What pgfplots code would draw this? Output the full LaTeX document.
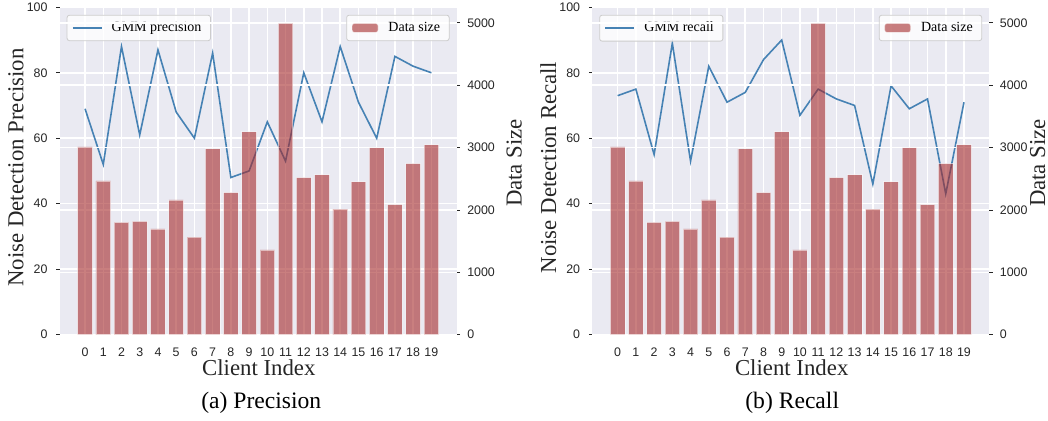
\documentclass[border=0pt]{standalone}
\usepackage{fontspec}
\setmainfont{Liberation Serif}
\newfontfamily\tickfont{Liberation Sans}
\usepackage{pgfplots}
\usepackage{pgfplotstable}
\pgfplotsset{compat=1.18}
\definecolor{bgc}{HTML}{EAEAF2}
\definecolor{barc}{HTML}{A52A2A}
\definecolor{linec}{HTML}{4682B4}
\definecolor{tickc}{HTML}{262626}

\pgfplotstableread{
idx size prec rec
0 3010 69 73
1 2465 52 75
2 1800 88 55
3 1818 61 89
4 1695 87 53
5 2160 68 82
6 1562 60 71
7 2980 86 74
8 2278 48 84
9 3252 50 90
10 1358 65 67
11 4990 53 75
12 2519 80 72
13 2562 65 70
14 2011 88 46
15 2450 71 76
16 2995 60 69
17 2085 85 72
18 2743 82 43
19 3043 80 71
}\datatable

\pgfplotsset{
  panel/.style={
    scale only axis, width=198.5pt, height=163.65pt,
    xmin=-1.39, xmax=20.39,
    anchor=south west,
    axis line style={draw=none},
    tick align=outside,
    major tick length=1.75pt,
    tick style={color=tickc, line width=0.4pt},
    tick label style={font=\tickfont\fontsize{6.2}{7}\selectfont, text=tickc},
    /pgf/number format/assume math mode=true,
    /pgf/number format/1000 sep={},
    major grid style={white, line width=0.75pt},
    legend style={font=\fontsize{7}{8}\selectfont, fill=white, fill opacity=0.8,
      text opacity=1, draw=black!20, rounded corners=1.2pt, inner xsep=2.5pt,
      inner ysep=1.3pt, line width=0.4pt},
    legend cell align=left,
  },
  lineaxis/.style={
    panel,
    ymin=0, ymax=100, ytick={0,20,...,100},
    xtick={0,...,19},
    axis x line*=bottom, axis y line*=left,
    xtick style={draw=none},
    axis background/.style={fill=bgc},
    xmajorgrids, ymajorgrids,
    yticklabel style={xshift=-0.8pt},
    xticklabel style={yshift=-1.5pt},
    legend style={at={(0.0176,0.977)}, anchor=north west},
  },
  baraxis/.style={
    panel,
    ymin=0, ymax=5250, ytick={0,1000,...,5000},
    axis x line=none, axis y line*=right,
    ymajorgrids,
    legend style={at={(0.982,0.977)}, anchor=north east},
  },
  lineplot/.style={linec, line width=0.8pt,
    legend image code/.code={\draw[##1] (0pt,0pt) -- (14.5pt,0pt); \path (17pt,0pt);}},
  barplot/.style={ybar, bar width=0.8, fill=barc, fill opacity=0.6,
    draw=white, draw opacity=0.5, line width=0.4pt,
    legend image code/.code={\fill[##1] (0pt,-2.25pt) rectangle (13pt,2.25pt); \path (16pt,0pt);}},
}

\begin{document}
\begin{tikzpicture}
\path[use as bounding box] (0pt,0pt) rectangle (524pt,-210.5pt);

% ---------- (a) Precision ----------
\begin{axis}[lineaxis, at={(29.85pt,-167.3pt)}]
\addplot[lineplot] table[x=idx,y=prec]{\datatable};
\addlegendentry{GMM precision}
\end{axis}
\begin{axis}[baraxis, at={(29.85pt,-167.3pt)}]
\addplot[barplot] table[x=idx,y=size]{\datatable};
\addlegendentry{Data size}
\end{axis}

% ---------- (b) Recall ----------
\begin{axis}[lineaxis, at={(296.15pt,-167.3pt)}]
\addplot[lineplot] table[x=idx,y=rec]{\datatable};
\addlegendentry{GMM recall}
\end{axis}
\begin{axis}[baraxis, at={(296.15pt,-167.3pt)}]
\addplot[barplot] table[x=idx,y=size]{\datatable};
\addlegendentry{Data size}
\end{axis}

% ---------- labels ----------
\begin{scope}[every node/.style={text=tickc, inner sep=0pt}]
\node[rotate=90, anchor=base, font=\fontsize{11.4}{13}\selectfont] at (11.75pt,-83.75pt) {Noise Detection Precision};
\node[rotate=90, anchor=base, font=\fontsize{11.4}{13}\selectfont] at (260.85pt,-81.5pt) {Data Size};
\node[anchor=base, font=\fontsize{11.4}{13}\selectfont] at (129.4pt,-188pt) {Client Index};
\node[anchor=base, font=\fontsize{11.8}{13}\selectfont, text=black] at (130.65pt,-204.15pt) {(a)~Precision};

\node[rotate=90, anchor=base, font=\fontsize{11.4}{13}\selectfont] at (278pt,-83.75pt) {Noise Detection Recall};
\node[rotate=90, anchor=base, font=\fontsize{11.4}{13}\selectfont] at (522.5pt,-81.5pt) {Data Size};
\node[anchor=base, font=\fontsize{11.4}{13}\selectfont] at (395.85pt,-188pt) {Client Index};
\node[anchor=base, font=\fontsize{11.8}{13}\selectfont, text=black] at (396.1pt,-204.15pt) {(b)~Recall};
\end{scope}
\end{tikzpicture}
\end{document}
